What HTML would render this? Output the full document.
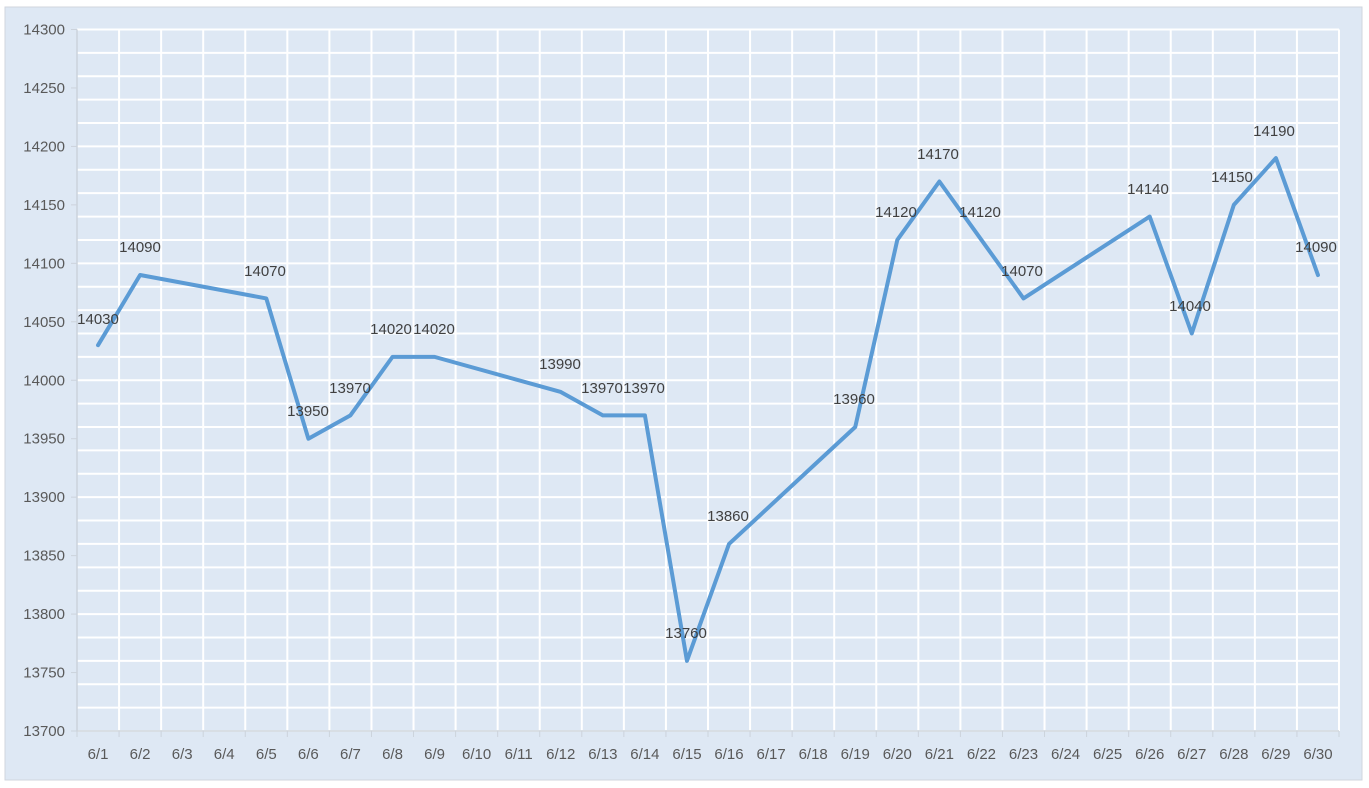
<!DOCTYPE html><html><head><style>body{margin:0;background:#fff}svg{display:block;font-family:"Liberation Sans",sans-serif}</style></head><body>
<svg width="1369" height="788" xmlns="http://www.w3.org/2000/svg">
<rect x="5" y="7" width="1357" height="773" fill="#dee8f4" stroke="#d0d6de"/>
<g id="g"></g>
<script>
const NS="http://www.w3.org/2000/svg",g=document.getElementById('g');
function el(t,a,txt){const e=document.createElementNS(NS,t);for(const k in a)e.setAttribute(k,a[k]);if(txt)e.textContent=txt;g.appendChild(e);return e;}
const L=77,R=1339,T=29.5,B=731,cw=(R-L)/30;
for(let i=0;i<=30;i++){const y=T+i*(B-T)/30;el('line',{x1:L,x2:R,y1:y,y2:y,stroke:'#fff','stroke-width':2});}
for(let i=1;i<=30;i++){const x=L+i*cw;el('line',{x1:x,x2:x,y1:T,y2:B,stroke:'#fff','stroke-width':2});}
el('line',{x1:L,x2:L,y1:T,y2:B,stroke:'#ccd3dc','stroke-width':1.5});
el('line',{x1:L,x2:R,y1:B,y2:B,stroke:'#ccd3dc','stroke-width':1.5});
for(let i=0;i<=12;i++){const y=B-i*(B-T)/12;el('line',{x1:71,x2:L,y1:y,y2:y,stroke:'#ccd3dc'});el('text',{x:65,y:y+5,'text-anchor':'end','font-size':15,fill:'#595959'},String(13700+50*i));}
for(let i=0;i<=30;i++){const x=L+i*cw;el('line',{x1:x,x2:x,y1:B,y2:B+6,stroke:'#ccd3dc'});}
for(let i=0;i<30;i++){el('text',{x:L+(i+.5)*cw,y:759,'text-anchor':'middle','font-size':15,fill:'#595959'},'6/'+(i+1));}
const d=[[1,14030,98,319],[2,14090,140,247],[5,14070,265,271],[6,13950,308,411],[7,13970,350,388],[8,14020,391,329],[9,14020,434,329],[12,13990,560,364],[13,13970,602,388],[14,13970,644,388],[15,13760,686,633],[16,13860,728,516],[19,13960,854,399],[20,14120,896,212],[21,14170,938,154],[22,14120,980,212],[23,14070,1022,271],[26,14140,1148,189],[27,14040,1190,306],[28,14150,1232,177],[29,14190,1274,131],[30,14090,1316,247]];
const pts=d.map(p=>[L+(p[0]-.5)*cw,B-(p[1]-13700)*(B-T)/600].join(',')).join(' ');
el('polyline',{points:pts,fill:'none',stroke:'#5b9bd5','stroke-width':4,'stroke-linejoin':'round','stroke-linecap':'round'});
d.forEach(p=>el('text',{x:p[2],y:p[3]+5,'text-anchor':'middle','font-size':15,fill:'#404040'},String(p[1])));
</script>
</svg></body></html>
